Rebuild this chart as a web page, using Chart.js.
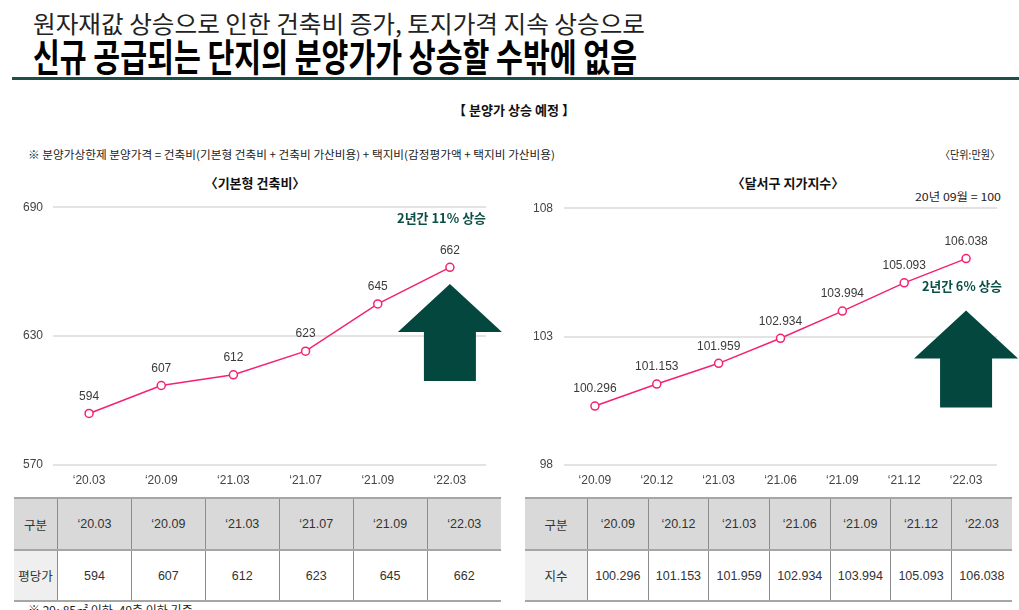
<!DOCTYPE html>
<html>
<head>
<meta charset="utf-8">
<script src="https://cdn.jsdelivr.net/npm/chart.js@4.4.1/dist/chart.umd.min.js"></script>
<style>
  body { margin: 0; background: #fff; }
  #page { position: relative; width: 1019px; height: 610px; overflow: hidden; font-family: "Noto Sans CJK KR", sans-serif; color: #222; }
  .abs { position: absolute; white-space: nowrap; line-height: 1; }
  .fit { transform-origin: 0 0; }
  #t1 { left: 33px; top: 11px; font-size: 24px; color: #222; }
  #t2 { left: 33px; top: 36px; font-size: 38px; font-weight: bold; color: #000; }
  #rule { position: absolute; left: 12px; top: 77px; width: 1007px; height: 3px; background: #1f4f49; }
  #sec { left: 453px; top: 103px; font-size: 13px; font-weight: bold; color: #111; }
  #formula { left: 28px; top: 149px; font-size: 11px; color: #222; }
  #unit { left: 940px; top: 149px; font-size: 11px; color: #222; }
  .ctitle { top: 176px; font-size: 13px; font-weight: bold; color: #111; text-align: center; width: 200px; }
  #base { left: 915px; top: 191px; font-size: 11px; color: #222; }
  .rise { font-size: 13px; font-weight: bold; color: #0c4f47; }
  .box { position: absolute; top: 190px; height: 300px; }
  table { position: absolute; top: 497px; border-collapse: collapse; font-family: "Liberation Sans", "Noto Sans CJK KR", sans-serif; font-size: 12.5px; color: #333; table-layout: fixed; }
  td { text-align: center; border-left: 1px solid #8c8c8c; border-right: 1px solid #8c8c8c; padding: 0; }
  tr.head td { background: #d9d9d9; height: 50px; border-top: 2px solid #a6a6a6; border-bottom: 2px solid #a6a6a6; }
  tr.body td { background: #fff; height: 49px; border-bottom: 2px solid #a6a6a6; }
  tr.body td:first-child { background: #efefef; }
  td:first-child { border-left: none; font-family: "Noto Sans CJK KR", sans-serif; }
  td:last-child { border-right: none; }
  #foot { left: 28px; top: 604px; font-size: 12px; color: #222; }
</style>
</head>
<body>
<div id="page">
  <div id="t1" class="abs fit" data-w="612">원자재값 상승으로 인한 건축비 증가, 토지가격 지속 상승으로</div>
  <div id="t2" class="abs fit" data-w="604">신규 공급되는 단지의 분양가가 상승할 수밖에 없음</div>
  <div id="rule"></div>
  <div id="sec" class="abs fit" data-w="122">【 분양가 상승 예정 】</div>
  <div id="formula" class="abs fit" data-w="527">※ 분양가상한제 분양가격 = 건축비(기본형 건축비 + 건축비 가산비용) + 택지비(감정평가액 + 택지비 가산비용)</div>
  <div id="unit" class="abs fit" data-w="60">〈단위:만원〉</div>
  <div class="abs ctitle" style="left:155px">〈기본형 건축비〉</div>
  <div class="abs ctitle" style="left:688px">〈달서구 지가지수〉</div>
  <div id="base" class="abs fit" data-w="86">20년 09월 = 100</div>

  <div class="box" style="left:0;width:510px"><canvas id="costChart"></canvas></div>
  <div class="box" style="left:510px;width:509px"><canvas id="indexChart"></canvas></div>

  <div class="abs rise fit" style="left:397px;top:211px" data-w="89">2년간 11% 상승</div>
  <div class="abs rise fit" style="left:922px;top:279px" data-w="80">2년간 6% 상승</div>

  <table id="costTable" style="left:14px;width:487px"></table>
  <table id="indexTable" style="left:525px;width:487px"></table>

  <div id="foot" class="abs">※ 29~85㎡ 이하, 49층 이하 기준</div>
</div>

<script>
// 기본형 건축비 (만원/평)
const costLabels = ['\u201820.03', '\u201820.09', '\u201821.03', '\u201821.07', '\u201821.09', '\u201822.03'];
const costValues = [594, 607, 612, 623, 645, 662];
const costTicks = [570, 630, 690];

// 달서구 지가지수 (20년 09월 = 100)
const indexLabels = ['\u201820.09', '\u201820.12', '\u201821.03', '\u201821.06', '\u201821.09', '\u201821.12', '\u201822.03'];
const indexValues = [100.296, 101.153, 101.959, 102.934, 103.994, 105.093, 106.038];
const indexTicks = [98, 103, 108];

const PINK = '#f52172';
const ARROW = '#03473f';

Chart.defaults.font.family = '"Liberation Sans", "Noto Sans CJK KR", sans-serif';
Chart.defaults.font.size = 12;
Chart.defaults.color = '#444';

// value text over each point
const valueLabels = {
  id: 'valueLabels',
  afterDatasetsDraw(chart, args, opts) {
    const ctx = chart.ctx;
    const meta = chart.getDatasetMeta(0);
    const ds = chart.data.datasets[0];
    ctx.save();
    ctx.font = '12px "Liberation Sans", sans-serif';
    ctx.fillStyle = '#3a3a3a';
    ctx.textAlign = 'center';
    ctx.textBaseline = 'middle';
    meta.data.forEach((pt, i) => {
      ctx.fillText(ds.data[i].toFixed(opts.digits), pt.x, pt.y - 17);
    });
    ctx.restore();
  }
};

// big up arrow under the last point
const upArrow = {
  id: 'upArrow',
  beforeDatasetsDraw(chart, args, opts) {
    const meta = chart.getDatasetMeta(0);
    const cx = meta.data[meta.data.length - 1].x;
    const top = chart.scales.y.getPixelForValue(opts.tip);
    const ctx = chart.ctx;
    ctx.save();
    ctx.fillStyle = ARROW;
    ctx.beginPath();
    ctx.moveTo(cx, top);
    ctx.lineTo(cx + 52, top + 48);
    ctx.lineTo(cx + 26, top + 48);
    ctx.lineTo(cx + 26, top + 97);
    ctx.lineTo(cx - 26, top + 97);
    ctx.lineTo(cx - 26, top + 48);
    ctx.lineTo(cx - 52, top + 48);
    ctx.closePath();
    ctx.fill();
    ctx.restore();
  }
};

function makeChart(id, labels, values, ticks, digits, tip, yWidth, tickPad, padRight) {
  return new Chart(document.getElementById(id), {
    type: 'line',
    data: {
      labels: labels,
      datasets: [{
        data: values,
        borderColor: PINK,
        borderWidth: 1.5,
        pointRadius: 4,
        pointBorderWidth: 1.5,
        pointBackgroundColor: '#fff',
        pointBorderColor: PINK,
        tension: 0
      }]
    },
    options: {
      responsive: true,
      maintainAspectRatio: false,
      animation: false,
      layout: { padding: { left: 0, right: padRight, top: 16, bottom: 0 } },
      plugins: {
        legend: { display: false },
        tooltip: { enabled: false },
        valueLabels: { digits: digits },
        upArrow: { tip: tip }
      },
      scales: {
        x: {
          offset: true,
          grid: { display: false, drawTicks: false },
          border: { display: false },
          ticks: { padding: 8, color: '#444', maxRotation: 0 },
          afterFit(s) { s.height = 25; }
        },
        y: {
          min: ticks[0],
          max: ticks[ticks.length - 1],
          afterBuildTicks(s) { s.ticks = ticks.map(v => ({ value: v })); },
          grid: { color: '#e3e3e3', lineWidth: 2, drawTicks: false },
          border: { display: false },
          ticks: { padding: tickPad, color: '#444' },
          afterFit(s) { s.width = yWidth; }
        }
      }
    },
    plugins: [valueLabels, upArrow]
  });
}

function fillTable(id, labels, values, rowName, digits) {
  const t = document.getElementById(id);
  let head = '<tr class="head"><td>구분</td>' + labels.map(l => '<td>' + l + '</td>').join('') + '</tr>';
  let body = '<tr class="body"><td>' + rowName + '</td>' + values.map(v => '<td>' + v.toFixed(digits) + '</td>').join('') + '</tr>';
  t.innerHTML = head + body;
  return t;
}

const ct = fillTable('costTable', costLabels, costValues, '평당가', 0);
ct.querySelector('td').style.width = '43px';
const it = fillTable('indexTable', indexLabels, indexValues, '지수', 3);
it.querySelector('td').style.width = '62px';

function fitAll() {
  document.querySelectorAll('.fit').forEach(el => {
    el.style.transform = 'none';
    const w = el.getBoundingClientRect().width;
    el.style.transform = 'scaleX(' + (parseFloat(el.dataset.w) / w) + ')';
  });
}

function draw() {
  fitAll();
  makeChart('costChart', costLabels, costValues, costTicks, 0, 654.3, 53, 10, 24);
  makeChart('indexChart', indexLabels, indexValues, indexTicks, 3, 104.02, 54, 11, 22);
}

if (document.fonts && document.fonts.ready) {
  document.fonts.ready.then(draw);
} else {
  draw();
}
</script>
</body>
</html>
